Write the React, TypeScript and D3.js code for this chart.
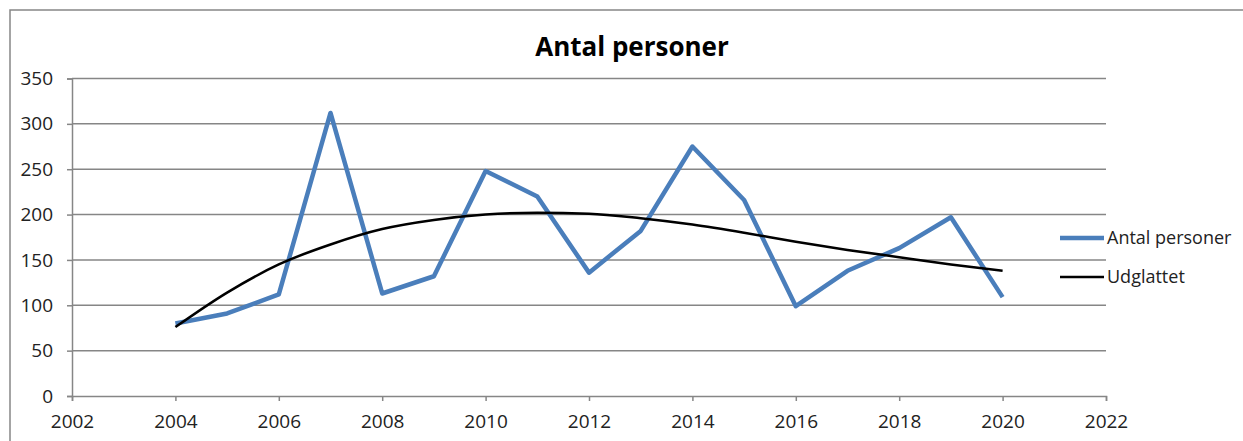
import React, { useEffect, useRef } from 'react';
import * as d3 from 'd3';

const years = [2004, 2005, 2006, 2007, 2008, 2009, 2010, 2011, 2012, 2013, 2014, 2015, 2016, 2017, 2018, 2019, 2020];
const antalPersoner = [80, 91, 112, 312, 113, 132, 248, 220, 136, 182, 275, 216, 99, 138, 163, 197, 109];
const udglattet = [76, 114, 145, 167, 184, 194, 200, 202, 201, 196, 189, 180, 170, 161, 153, 145, 138];
const xTicks = [2002, 2004, 2006, 2008, 2010, 2012, 2014, 2016, 2018, 2020, 2022];
const yTicks = [0, 50, 100, 150, 200, 250, 300, 350];

const W = 1243;
const H = 441;
const FONT = '"Open Sans", sans-serif';

const App: React.FC = () => {
  const svgRef = useRef<SVGSVGElement>(null);

  useEffect(() => {
    if (!svgRef.current) return;
    const svg = d3.select(svgRef.current);
    svg.selectAll('*').remove();

    const plot = { left: 72, right: 1106, top: 78.5, bottom: 396 };
    const x = d3.scaleLinear().domain([2002, 2022]).range([plot.left, plot.right]);
    const y = d3.scaleLinear().domain([0, 350]).range([plot.bottom, plot.top]);
    const grey = '#868686';

    // chart frame
    svg.append('rect')
      .attr('x', 10).attr('y', 10)
      .attr('width', W + 20).attr('height', H + 20)
      .attr('fill', 'white')
      .attr('stroke', grey).attr('stroke-width', 1.5);

    // title
    svg.append('text')
      .attr('x', 632).attr('y', 56)
      .attr('text-anchor', 'middle')
      .style('font-family', FONT)
      .style('font-size', '26px')
      .style('font-weight', 'bold')
      .text('Antal personer');

    // gridlines
    svg.append('g')
      .selectAll('line')
      .data(yTicks.filter((t) => t > 0))
      .join('line')
      .attr('x1', plot.left).attr('x2', plot.right)
      .attr('y1', (d) => y(d)).attr('y2', (d) => y(d))
      .attr('stroke', grey).attr('stroke-width', 1.5);

    // y axis
    const yAxis = svg.append('g')
      .attr('transform', `translate(${plot.left},0)`)
      .call(d3.axisLeft(y).tickValues(yTicks).tickSize(5).tickPadding(14).tickFormat(d3.format('d')));
    yAxis.select('.domain').attr('stroke', grey).attr('stroke-width', 1.5);
    yAxis.selectAll('.tick line').attr('stroke', grey).attr('stroke-width', 1.5);
    yAxis.selectAll('.tick text')
      .style('font-family', FONT).style('font-size', '19px').attr('fill', '#222');

    // x axis
    const xAxis = svg.append('g')
      .attr('transform', `translate(0,${plot.bottom})`)
      .call(d3.axisBottom(x).tickValues(xTicks).tickSize(5).tickPadding(14).tickFormat(d3.format('d')));
    xAxis.select('.domain').attr('stroke', grey).attr('stroke-width', 1.5);
    xAxis.selectAll('.tick line').attr('stroke', grey).attr('stroke-width', 1.5);
    xAxis.selectAll('.tick text')
      .style('font-family', FONT).style('font-size', '19px').attr('fill', '#222');

    // series
    const rawLine = d3.line<number>()
      .x((_, i) => x(years[i]))
      .y((d) => y(d));
    svg.append('path')
      .datum(antalPersoner)
      .attr('d', rawLine)
      .attr('fill', 'none')
      .attr('stroke', '#4a7ebb')
      .attr('stroke-width', 4.5)
      .attr('stroke-linejoin', 'round');

    const smoothLine = d3.line<number>()
      .x((_, i) => x(years[i]))
      .y((d) => y(d))
      .curve(d3.curveMonotoneX);
    svg.append('path')
      .datum(udglattet)
      .attr('d', smoothLine)
      .attr('fill', 'none')
      .attr('stroke', '#000')
      .attr('stroke-width', 2.5);

    // legend
    const legend = [
      { label: 'Antal personer', color: '#4a7ebb', width: 4.5, y: 238 },
      { label: 'Udglattet', color: '#000', width: 2.5, y: 277 },
    ];
    const lg = svg.append('g');
    lg.selectAll('line')
      .data(legend)
      .join('line')
      .attr('x1', 1060).attr('x2', 1104)
      .attr('y1', (d) => d.y).attr('y2', (d) => d.y)
      .attr('stroke', (d) => d.color)
      .attr('stroke-width', (d) => d.width);
    lg.selectAll('text')
      .data(legend)
      .join('text')
      .attr('x', 1107)
      .attr('y', (d) => d.y)
      .attr('dy', '0.35em')
      .style('font-family', FONT)
      .style('font-size', '18px')
      .attr('fill', '#222')
      .text((d) => d.label);
  }, []);

  return (
    <div style={{ position: 'fixed', left: 0, top: 0, width: W, height: H, background: 'white' }}>
      <svg ref={svgRef} width={W} height={H} style={{ display: 'block' }} />
    </div>
  );
};

export default App;
